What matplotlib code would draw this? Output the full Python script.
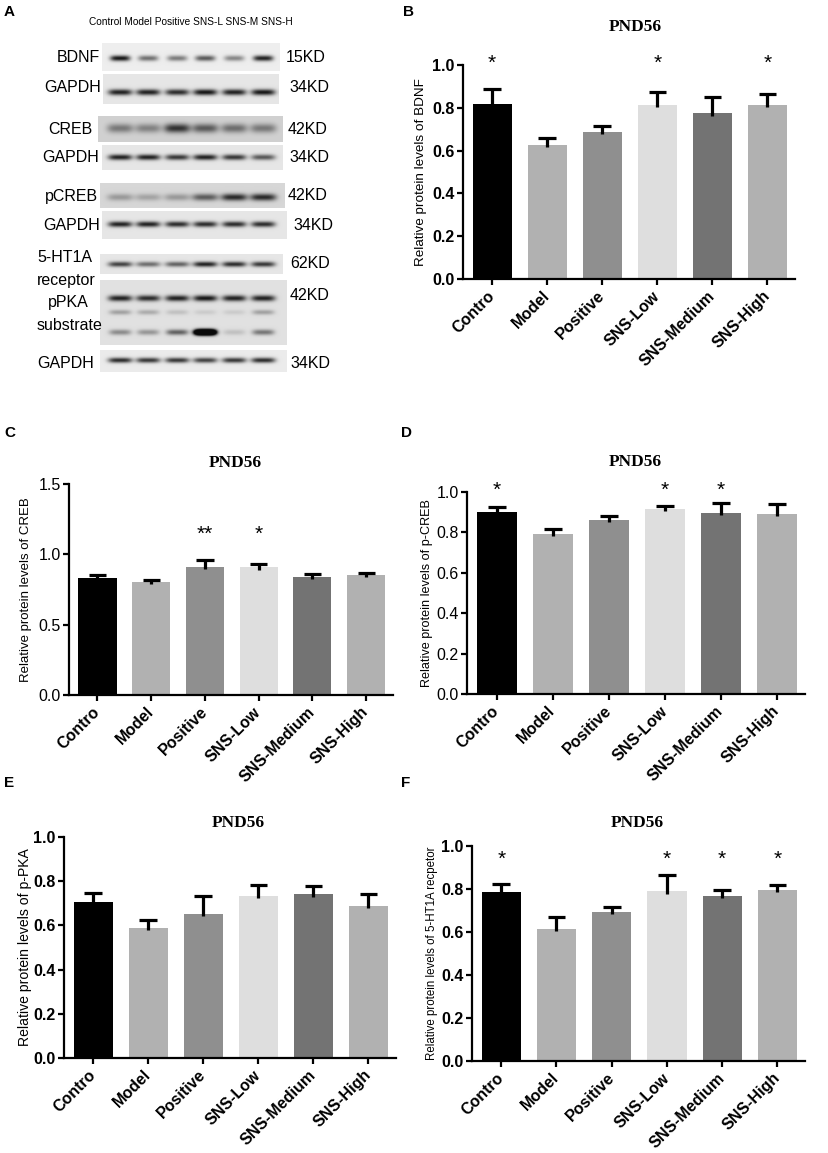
import matplotlib
matplotlib.use("Agg")
import matplotlib.pyplot as plt
import numpy as np

plt.rcParams['font.family'] = ['Liberation Sans', 'DejaVu Sans']

W, H = 829, 1153

groups = ['Contro', 'Model', 'Positive', 'SNS-Low', 'SNS-Medium', 'SNS-High']
bar_colors = ['#000000', '#b1b1b1', '#8f8f8f', '#dedede', '#737373', '#b1b1b1']

# panel B - BDNF
bdnf_mean = [0.816, 0.628, 0.688, 0.813, 0.774, 0.813]
bdnf_err = [0.073, 0.031, 0.025, 0.061, 0.078, 0.051]
bdnf_sig = ['*', '', '', '*', '', '*']

# panel C - CREB
creb_mean = [0.833, 0.802, 0.911, 0.907, 0.838, 0.854]
creb_err = [0.019, 0.017, 0.048, 0.021, 0.019, 0.015]
creb_sig = ['', '', '**', '*', '', '']

# panel D - p-CREB
pcreb_mean = [0.899, 0.793, 0.863, 0.917, 0.896, 0.891]
pcreb_err = [0.028, 0.025, 0.016, 0.014, 0.048, 0.049]
pcreb_sig = ['*', '', '', '*', '*', '']

# panel E - p-PKA
ppka_mean = [0.708, 0.588, 0.651, 0.734, 0.740, 0.689]
ppka_err = [0.038, 0.036, 0.083, 0.048, 0.039, 0.054]
ppka_sig = ['', '', '', '', '', '']

# panel F - 5-HT1A receptor
ht1a_mean = [0.785, 0.616, 0.692, 0.789, 0.766, 0.794]
ht1a_err = [0.040, 0.056, 0.022, 0.078, 0.028, 0.025]
ht1a_sig = ['*', '', '', '*', '*', '*']

# panel A - western blot band darkness per lane
lane_names = ['Control', 'Model', 'Positive', 'SNS-L', 'SNS-M', 'SNS-H']
bdnf_band = [0.95, 0.55, 0.5, 0.65, 0.45, 0.9]
gapdh1_band = [0.9, 0.9, 0.85, 0.95, 0.9, 0.95]
creb_band = [0.45, 0.4, 0.8, 0.6, 0.5, 0.45]
gapdh2_band = [0.9, 0.9, 0.8, 0.9, 0.8, 0.65]
pcreb_band = [0.3, 0.25, 0.3, 0.6, 0.85, 0.85]
gapdh3_band = [0.9, 0.9, 0.85, 0.85, 0.85, 0.85]
ht1a_band = [0.75, 0.55, 0.6, 0.9, 0.85, 0.8]
ppka_top = [0.9, 0.85, 0.9, 0.95, 0.9, 0.9]
ppka_mid = [0.3, 0.25, 0.15, 0.1, 0.1, 0.3]
ppka_low = [0.4, 0.35, 0.6, 3.0, 0.15, 0.5]
gapdh4_band = [0.85, 0.8, 0.8, 0.75, 0.8, 0.85]


def fx(px):
    return px / W


def fy(py):
    return 1 - py / H


fig = plt.figure(figsize=(W / 100, H / 100), dpi=100)

# ---------------- panel A ----------------
axa = fig.add_axes([0, fy(390), fx(400), 390 / H])
axa.set_xlim(0, 400)
axa.set_ylim(390, 0)
axa.axis('off')

lane_x = [120, 148, 177, 205, 234, 263]


def blot(x0, x1, y0, y1, bg, rows):
    xs = np.arange(x0, x1, 0.5)
    ys = np.arange(y0, y1, 0.5)
    X, Y = np.meshgrid(xs, ys)
    dark = np.zeros_like(X)
    for vals, cy, sig, hw in rows:
        for cx, v in zip(lane_x, vals):
            dark += v * np.exp(-(np.abs(X - cx) / hw) ** 4) * np.exp(-((Y - cy) / sig) ** 2)
    dark = np.clip(dark, 0, 1)
    img = bg - (bg - 0.04) * dark
    axa.imshow(img, cmap='gray', vmin=0, vmax=1, extent=(x0, x1, y1, y0),
               interpolation='bilinear', aspect='auto')


blot(102, 280, 43, 71, 0.93, [(bdnf_band, 58, 2.8, 10)])
blot(103, 279, 74, 104, 0.9, [(gapdh1_band, 92, 3.0, 12)])
blot(98, 283, 116, 142, 0.82, [(creb_band, 128, 4.5, 13)])
blot(102, 283, 145, 170, 0.9, [(gapdh2_band, 157, 2.8, 12)])
blot(100, 285, 183, 208, 0.84, [(pcreb_band, 197, 3.5, 13)])
blot(102, 287, 211, 239, 0.9, [(gapdh3_band, 224, 2.8, 12)])
blot(100, 283, 254, 274, 0.9, [(ht1a_band, 264, 2.6, 12)])
blot(100, 287, 280, 345, 0.88, [(ppka_top, 298, 3.0, 12), (ppka_mid, 312, 2.5, 11),
                                (ppka_low, 332, 2.8, 11)])
blot(100, 287, 350, 372, 0.92, [(gapdh4_band, 360, 2.6, 12)])

axa.text(191, 22, ' '.join(lane_names), ha='center', va='center', fontsize=7.3)

lab_fs = 11.5
row_labels = [('BDNF', 100, 58), ('GAPDH', 101, 88), ('CREB', 93, 129), ('GAPDH', 99, 158),
              ('pCREB', 98, 196), ('GAPDH', 100, 225)]
for txt, xr, yc in row_labels:
    axa.text(xr, yc, txt, ha='right', va='center', fontsize=lab_fs)
axa.text(37, 258, '5-HT1A', ha='left', va='center', fontsize=lab_fs)
axa.text(37, 280, 'receptor', ha='left', va='center', fontsize=lab_fs)
axa.text(68, 303, 'pPKA', ha='center', va='center', fontsize=lab_fs)
axa.text(37, 325, 'substrate', ha='left', va='center', fontsize=lab_fs)
axa.text(37, 363, 'GAPDH', ha='left', va='center', fontsize=lab_fs)

kd_labels = [('15KD', 286, 58), ('34KD', 289, 88), ('42KD', 288, 129), ('34KD', 289, 158),
             ('42KD', 288, 196), ('34KD', 293, 225), ('62KD', 290, 264), ('42KD', 290, 296),
             ('34KD', 290, 363)]
for txt, xl, yc in kd_labels:
    axa.text(xl, yc, txt, ha='left', va='center', fontsize=lab_fs)


# ---------------- bar panels ----------------
def bar_panel(box, means, errs, sig, ymax, yticks, ylabel, ylab_fs, ylab_x, tick_bold,
              star_y, title_xy):
    x0, x1, y0, y1 = box
    ax = fig.add_axes([fx(x0), fy(y1), (x1 - x0) / W, (y1 - y0) / H])
    pos = np.arange(len(groups))
    means = np.array(means)
    tops = means + np.array(errs)
    ax.bar(pos, means, width=0.71, color=bar_colors, zorder=2)
    # upper error bars only
    ax.vlines(pos, means - 0.01 * ymax, tops, colors='black', linewidth=2.3, zorder=3)
    ax.hlines(tops, pos - 0.16, pos + 0.16, colors='black', linewidth=2.3, zorder=3)
    ax.set_xlim(-0.53, 5.5)
    ax.set_ylim(0, ymax)
    ax.set_yticks(yticks)
    ax.set_yticklabels(['%.1f' % t for t in yticks], fontsize=11.5,
                       fontweight='bold' if tick_bold else 'normal')
    ax.set_xticks(pos)
    ax.set_xticklabels(groups, rotation=45, ha='right', va='center', rotation_mode='anchor',
                       fontsize=11.5, fontweight='bold')
    for s in ['top', 'right']:
        ax.spines[s].set_visible(False)
    for s in ['left', 'bottom']:
        ax.spines[s].set_linewidth(1.6)
    ax.tick_params(axis='both', direction='out', length=4.5, width=1.6, pad=1.5)
    ax.tick_params(axis='x', pad=6)
    ax.set_ylabel(ylabel, fontsize=ylab_fs)
    ax.yaxis.set_label_coords((ylab_x - x0) / (x1 - x0), 0.5)
    for p, s in zip(pos, sig):
        if s:
            ax.text(p, star_y, s, ha='center', va='center', fontsize=15, clip_on=False)
    fig.text(fx(title_xy[0]), fy(title_xy[1]), 'PND56', ha='center', va='center',
             fontsize=12.5, fontweight='bold', family='Liberation Serif')
    return ax


yt = [0, 0.2, 0.4, 0.6, 0.8, 1.0]
bar_panel((463, 795, 65, 279), bdnf_mean, bdnf_err, bdnf_sig, 1.0, yt,
          'Relative protein levels of BDNF', 9.7, 427, True, 1.01, (635, 27))
bar_panel((69, 393, 484, 695), creb_mean, creb_err, creb_sig, 1.5, [0, 0.5, 1.0, 1.5],
          'Relative protein levels of CREB', 9.5, 32, False, 1.14, (235, 463))
bar_panel((467, 805, 492, 694), pcreb_mean, pcreb_err, pcreb_sig, 1.0, yt,
          'Relative protein levels of p-CREB', 9.1, 433, False, 1.01, (635, 462))
bar_panel((64, 396, 837, 1058), ppka_mean, ppka_err, ppka_sig, 1.0, yt,
          'Relative protein levels of p-PKA', 10.1, 32, True, 1.0, (238, 823))
bar_panel((472, 805, 846, 1061), ht1a_mean, ht1a_err, ht1a_sig, 1.0, yt,
          'Relative protein levels of 5-HT1A recpetor', 8.3, 438, True, 0.94, (637, 823))

for letter, px, py in [('A', 4, 12), ('B', 403, 12), ('C', 4, 433), ('D', 401, 433),
                       ('E', 4, 783), ('F', 401, 783)]:
    fig.text(fx(px), fy(py), letter, ha='left', va='center', fontsize=11, fontweight='bold')

fig.savefig('out.png', dpi=100)
